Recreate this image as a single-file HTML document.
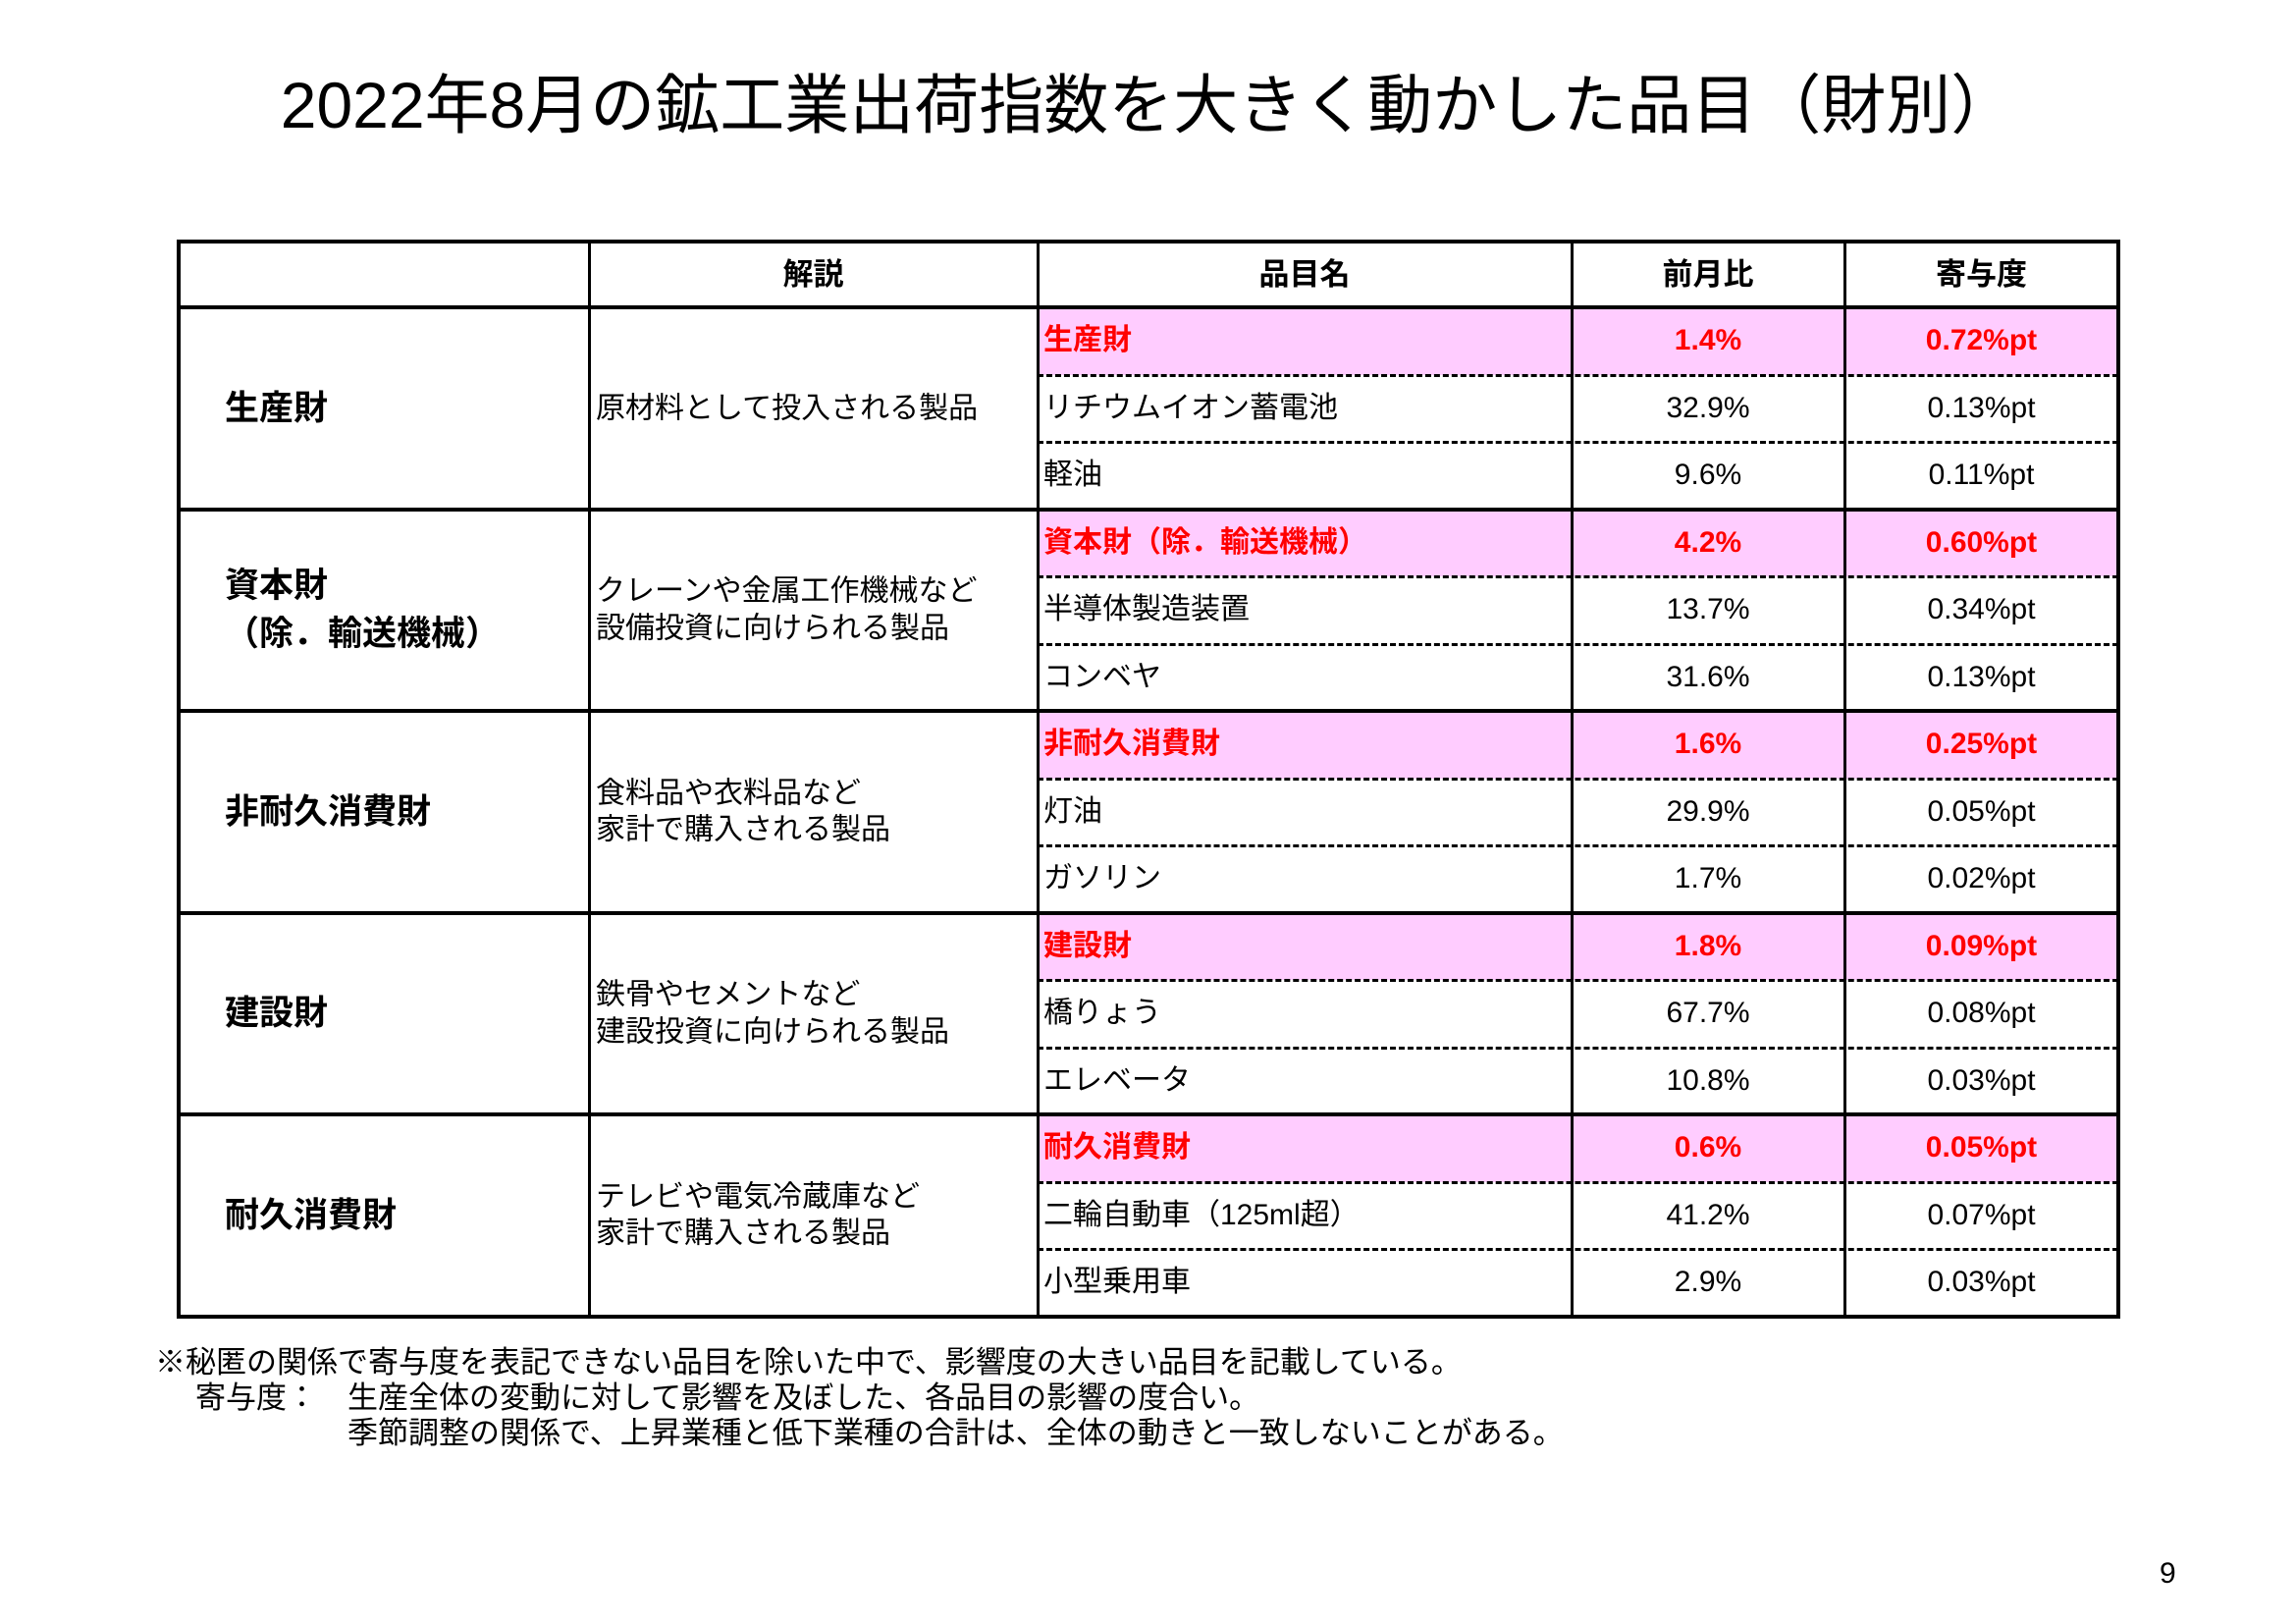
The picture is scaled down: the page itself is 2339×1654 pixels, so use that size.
<!DOCTYPE html>
<html><head><meta charset="utf-8"><style>
body{margin:0;width:2339px;height:1654px;background:#fff;position:relative;overflow:hidden;font-family:"Liberation Sans","Noto Sans CJK JP",sans-serif;color:#000}
.a{position:absolute;white-space:nowrap;box-sizing:border-box}
</style></head><body>
<div class="a" style="left:0;width:2339px;text-align:center;top:74px;font-size:66px;line-height:1">2022年8月の鉱工業出荷指数を大きく動かした品目（財別）</div>
<div id="tbl"></div>
<div class="a" style="left:158px;top:1362px;font-size:31px">※秘匿の関係で寄与度を表記できない品目を除いた中で、影響度の大きい品目を記載している。</div>
<div class="a" style="left:199px;top:1398px;font-size:31px">寄与度：</div>
<div class="a" style="left:354px;top:1398px;font-size:31px">生産全体の変動に対して影響を及ぼした、各品目の影響の度合い。</div>
<div class="a" style="left:354px;top:1434px;font-size:31px">季節調整の関係で、上昇業種と低下業種の合計は、全体の動きと一致しないことがある。</div>
<div class="a" style="left:2200px;top:1586px;font-size:30px">9</div>
<script>
const groups=["生産財","資本財<br>（除．輸送機械）","非耐久消費財","建設財","耐久消費財"];
const descs=["原材料として投入される製品","クレーンや金属工作機械など<br>設備投資に向けられる製品","食料品や衣料品など<br>家計で購入される製品","鉄骨やセメントなど<br>建設投資に向けられる製品","テレビや電気冷蔵庫など<br>家計で購入される製品"];
const items=[["生産財","リチウムイオン蓄電池","軽油"],["資本財（除．輸送機械）","半導体製造装置","コンベヤ"],["非耐久消費財","灯油","ガソリン"],["建設財","橋りょう","エレベータ"],["耐久消費財","二輪自動車（125ml超）","小型乗用車"]];
const mom=[["1.4%","32.9%","9.6%"],["4.2%","13.7%","31.6%"],["1.6%","29.9%","1.7%"],["1.8%","67.7%","10.8%"],["0.6%","41.2%","2.9%"]];
const contrib=[["0.72%pt","0.13%pt","0.11%pt"],["0.60%pt","0.34%pt","0.13%pt"],["0.25%pt","0.05%pt","0.02%pt"],["0.09%pt","0.08%pt","0.03%pt"],["0.05%pt","0.07%pt","0.03%pt"]];
const headers=["解説","品目名","前月比","寄与度"];
const cols=[182,600,1057,1601,1879,2158];
const top0=246,hdrH=67,rowH=68.5;
const T=document.getElementById('tbl');
function mk(s,html){const d=document.createElement('div');d.className='a';d.style.cssText=s;if(html!=null)d.innerHTML=html;T.appendChild(d);return d;}
headers.forEach((h,i)=>{const d=mk(`left:${cols[i+1]}px;width:${cols[i+2]-cols[i+1]}px;top:${top0+18}px;text-align:center;font-size:31px;font-weight:bold;line-height:1`,h);

});
groups.forEach((g,gi)=>{
 const gy=top0+hdrH+gi*3*rowH;
 const p=mk(`left:${cols[2]}px;width:${cols[5]-cols[2]}px;top:${gy}px;height:${rowH}px;background:#FFCCFF`);
 
 
 const gl=mk(`left:229px;top:${gy+3*rowH/2}px;transform:translateY(-50%);font-size:35px;font-weight:bold;line-height:1.4`,g);
 
 
 const dl=mk(`left:607px;top:${gy+3*rowH/2}px;transform:translateY(-50%);font-size:30px;line-height:1.25`,descs[gi]);
 
 
 for(let r=0;r<3;r++){
  const y=gy+r*rowH, st=r==0?'color:#f00;font-weight:bold;':'';
  const c=`top:${y+rowH/2-15}px;font-size:30px;line-height:1;${st}`;
  const a=mk(`left:1063px;${c}`,items[gi][r]);
  
  
  const b=mk(`left:${cols[3]}px;width:${cols[4]-cols[3]}px;text-align:center;${c}`,mom[gi][r]);
  
  
  const e=mk(`left:${cols[4]}px;width:${cols[5]-cols[4]}px;text-align:center;${c}`,contrib[gi][r]);
  
  
  if(r>0){const l=mk(`left:${cols[2]}px;width:${cols[5]-cols[2]}px;top:${y-1}px;border-top:3px dashed #000`);
   
   }
 }
 const hl=mk(`left:${cols[0]}px;width:${cols[5]-cols[0]}px;top:${gy-2}px;border-top:4px solid #000`);
 
 
});
const bottom=top0+hdrH+15*rowH;
const ob=mk(`left:${cols[0]-2}px;top:${top0-2}px;width:${cols[5]-cols[0]+4}px;height:${bottom-top0+4}px;border:4px solid #000`);


for(let i=1;i<5;i++){const v=mk(`left:${cols[i]-1}px;top:${top0}px;height:${bottom-top0}px;border-left:3px solid #000`);
 
 }
</script>
</body></html>
